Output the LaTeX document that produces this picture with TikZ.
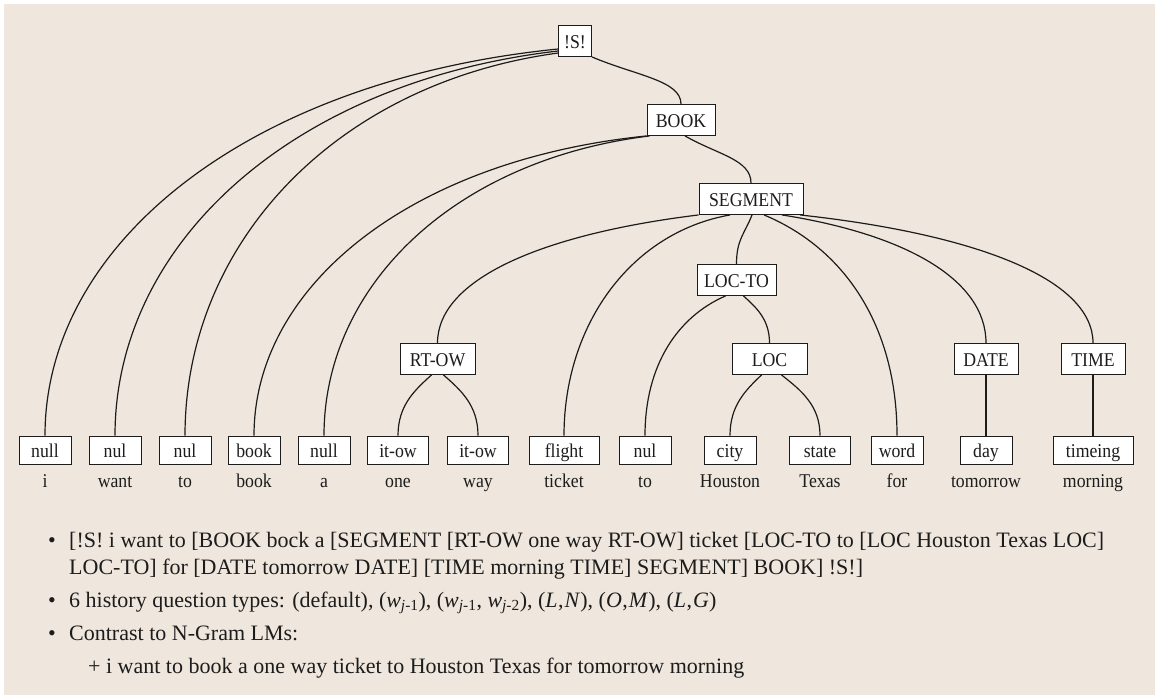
\documentclass[tikz,border=0pt]{standalone}
\usepackage{fontspec}
\setmainfont{Liberation Serif}
\newfontfamily\treefont[FakeStretch=0.91]{Liberation Serif}
\usetikzlibrary{calc}
\definecolor{panel}{RGB}{239,231,221}
\definecolor{ink}{RGB}{28,28,28}

\tikzset{
  % parse-tree edge: leaves the parent along a shallow tangent, enters the child vertically
  ea/.initial=0.6, eb/.initial=0.15, ec/.initial=0.5,
  faredge/.style={ea=0.6, eb=0.08},
  nearedge/.style={ea=0.5, eb=0.4},
  midedge/.style={ea=0.5, eb=0.25},
  treeedge/.style={draw=ink, line width=1.2pt,
    to path={let \p1=(\tikztostart), \p2=(\tikztotarget) in
      .. controls ({\x1+\pgfkeysvalueof{/tikz/ea}*(\x2-\x1)},{\y1+\pgfkeysvalueof{/tikz/eb}*(\y2-\y1)})
             and (\x2,{\y2-\pgfkeysvalueof{/tikz/ec}*(\y2-\y1)}) .. (\tikztotarget)}},
  tag/.style={draw=ink, fill=white, line width=0.9pt, inner sep=0pt,
    text height=15pt, text depth=0pt, text=ink,
    font=\treefont\fontsize{19.5}{22}\selectfont},
  leaf/.style={tag, minimum height=28pt},
  cat/.style={tag, minimum height=31pt},
  word/.style={anchor=base, inner sep=0pt, text=ink,
    font=\treefont\fontsize{19.5}{22}\selectfont},
  txt/.style={anchor=base west, inner sep=0pt, text=ink,
    font=\fontsize{22}{27}\selectfont},
  bul/.style={anchor=base, inner sep=0pt, text=ink,
    font=\fontsize{22}{27}\selectfont},
}

\begin{document}
\begin{tikzpicture}[x=1pt, y=-1pt]
\useasboundingbox (0,0) rectangle (1155,695);
\fill[panel] (4,4) rectangle (1155,695);

% category nodes
\node[cat, minimum width=33pt]  (S)     at (575,41)    {!S!};
\node[cat, minimum width=68pt]  (BOOK)  at (681,120)   {BOOK};
\node[cat, minimum width=104pt] (SEG)   at (751,199)   {SEGMENT};
\node[cat, minimum width=79pt]  (LOCTO) at (736.5,280) {LOC-TO};
\node[cat, minimum width=75pt]  (RTOW)  at (437.5,359) {RT-OW};
\node[cat, minimum width=75pt]  (LOC)   at (769.5,359) {LOC};
\node[cat, minimum width=64pt]  (DATE)  at (986,359)   {DATE};
\node[cat, minimum width=64pt]  (TIME)  at (1093,359)  {TIME};

% leaf tags
\node[leaf, minimum width=52pt] (L1)  at (45,450)   {null};
\node[leaf, minimum width=52pt] (L2)  at (115,450)  {nul};
\node[leaf, minimum width=52pt] (L3)  at (185,450)  {nul};
\node[leaf, minimum width=52pt] (L4)  at (254,450)  {book};
\node[leaf, minimum width=52pt] (L5)  at (324,450)  {null};
\node[leaf, minimum width=61pt] (L6)  at (398,450)  {it-ow};
\node[leaf, minimum width=61pt] (L7)  at (478,450)  {it-ow};
\node[leaf, minimum width=70pt] (L8)  at (564,450)  {flight};
\node[leaf, minimum width=52pt] (L9)  at (645,450)  {nul};
\node[leaf, minimum width=52pt] (L10) at (730,450)  {city};
\node[leaf, minimum width=61pt] (L11) at (820,450)  {state};
\node[leaf, minimum width=52pt] (L12) at (897,450)  {word};
\node[leaf, minimum width=52pt] (L13) at (986,450)  {day};
\node[leaf, minimum width=80pt] (L14) at (1093,450) {timeing};

% sentence words
\node[word] (W1)  at (45,487)   {i};
\node[word] (W2)  at (115,487)  {want};
\node[word] (W3)  at (185,487)  {to};
\node[word] (W4)  at (254,487)  {book};
\node[word] (W5)  at (324,487)  {a};
\node[word] (W6)  at (398,487)  {one};
\node[word] (W7)  at (478,487)  {way};
\node[word] (W8)  at (564,487)  {ticket};
\node[word] (W9)  at (645,487)  {to};
\node[word] (W10) at (730,487)  {Houston};
\node[word] (W11) at (820,487)  {Texas};
\node[word] (W12) at (897,487)  {for};
\node[word] (W13) at (986,487)  {tomorrow};
\node[word] (W14) at (1093,487) {morning};

% tree edges
\draw[treeedge, faredge] ([yshift=-8pt]S.west)  to (L1.north);
\draw[treeedge, faredge] ([yshift=-10pt]S.west) to (L2.north);
\draw[treeedge, faredge] ([yshift=-12pt]S.west) to (L3.north);
\draw[treeedge, nearedge] (S.south east) to (BOOK.north);

\draw[treeedge, faredge] (BOOK.south west) to (L4.north);
\draw[treeedge, faredge] ([xshift=3pt]BOOK.south west) to (L5.north);
\draw[treeedge, nearedge] ([xshift=4pt]BOOK.south) to (SEG.north);

\draw[treeedge] (SEG.south west) to (RTOW.north);
\draw[treeedge, faredge] ([xshift=-21pt]SEG.south) to (L8.north);
\draw[treeedge, nearedge] ([xshift=1pt]SEG.south) to (LOCTO.north);
\draw[treeedge] ([xshift=13pt]SEG.south) to (L12.north);
\draw[treeedge] ([xshift=31pt]SEG.south) to (DATE.north);
\draw[treeedge] ([xshift=49pt]SEG.south) to (TIME.north);

\draw[treeedge, midedge] ([xshift=-6pt]RTOW.south) to (L6.north);
\draw[treeedge, midedge] ([xshift=6pt]RTOW.south) to (L7.north);

\draw[treeedge] ([xshift=-11pt]LOCTO.south) to (L9.north);
\draw[treeedge, midedge] ([xshift=7pt]LOCTO.south) to (LOC.north);

\draw[treeedge, midedge] ([xshift=-8pt]LOC.south) to (L10.north);
\draw[treeedge, midedge] ([xshift=12pt]LOC.south) to (L11.north);

\draw[draw=ink, line width=1.2pt] (DATE.south) -- (L13.north);
\draw[draw=ink, line width=1.2pt] (TIME.south) -- (L14.north);

% notes
\node[bul] (B1) at (52,547) {\textbullet};
\node[txt] (T1) at (69,547) {[!S! i want to [BOOK bock a [SEGMENT [RT-OW one way RT-OW] ticket [LOC-TO to [LOC Houston Texas LOC]};
\node[txt] (T2) at (69,574) {LOC-TO] for [DATE tomorrow DATE] [TIME morning TIME] SEGMENT] BOOK] !S!]};
\node[bul] (B2) at (52,607) {\textbullet};
\node[txt] (T3) at (69,607) {6 history question types: (default), (\textit{w}\textsubscript{\textit{j}-1}), (\textit{w}\textsubscript{\textit{j}-1}, \textit{w}\textsubscript{\textit{j}-2}), (\textit{L}\kern0.5pt,\kern1pt\textit{N}), (\textit{O}\kern0.5pt,\kern1pt\textit{M}), (\textit{L}\kern0.5pt,\kern1pt\textit{G})};
\node[bul] (B3) at (52,640) {\textbullet};
\node[txt] (T4) at (69,640) {Contrast to N-Gram LMs:};
\node[txt] (T5) at (88,673) {+ i want to book a one way ticket to Houston Texas for tomorrow morning};
\end{tikzpicture}
\end{document}
